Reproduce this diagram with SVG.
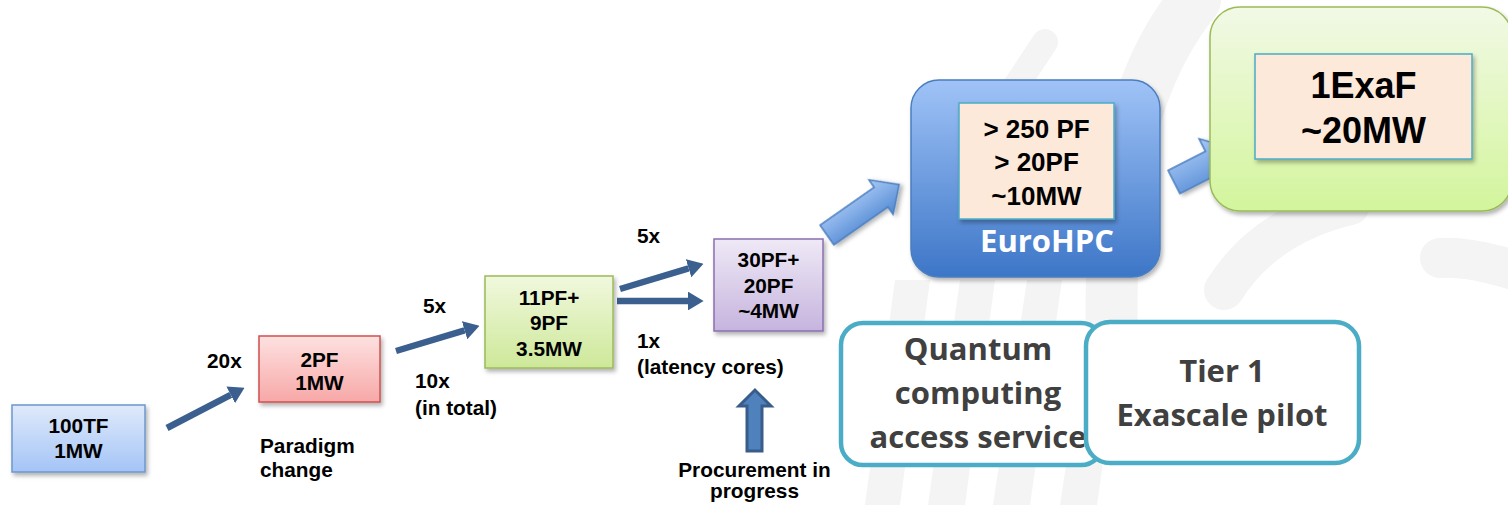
<svg xmlns="http://www.w3.org/2000/svg" width="1508" height="505" viewBox="0 0 1508 505">
<style>
.lbl{font-family:"Liberation Sans",Arial,sans-serif;font-weight:bold;font-size:20.8px;fill:#000}
.box{font-family:"Liberation Sans",Arial,sans-serif;font-weight:bold;font-size:20.8px;fill:#000;text-anchor:middle}
.big{font-family:"Liberation Sans",Arial,sans-serif;font-weight:bold;fill:#000;text-anchor:middle}
.cal{font-family:"Open Sans","Noto Sans",sans-serif;font-weight:bold;font-size:31px;fill:#404040;text-anchor:middle}
.bg{fill:none;stroke:#f4f4f4;stroke-linecap:round}
.conn{stroke:#3b5f8e;stroke-width:6.5;fill:none;marker-end:url(#ah)}
.inner{fill:#fde9d9;stroke:#4bacc6;stroke-width:1.5}
.svc{fill:#fff;stroke:#4bacc6;stroke-width:4.5}
.blk{fill:url(#gArrow);stroke:#4a7ebf;stroke-width:1.5}
</style>
<defs>
<marker id="ah" viewBox="0 0 10 12" refX="0" refY="6" markerWidth="2.4" markerHeight="2.9" orient="auto" markerUnits="strokeWidth">
<path d="M0,0 L10,6 L0,12 Z" fill="#3b5f8e"/>
</marker>
<filter id="sh" x="-10%" y="-10%" width="125%" height="130%">
<feDropShadow dx="2" dy="3" stdDeviation="2" flood-color="#000" flood-opacity="0.3"/>
</filter>
<linearGradient id="gBlue" x1="0" y1="0" x2="0" y2="1"><stop offset="0" stop-color="#dfeafb"/><stop offset="1" stop-color="#a4c4f6"/></linearGradient>
<linearGradient id="gRed" x1="0" y1="0" x2="0" y2="1"><stop offset="0" stop-color="#fde1e0"/><stop offset="1" stop-color="#f7a8a7"/></linearGradient>
<linearGradient id="gGreen" x1="0" y1="0" x2="0" y2="1"><stop offset="0" stop-color="#f1f8de"/><stop offset="1" stop-color="#cde899"/></linearGradient>
<linearGradient id="gPurple" x1="0" y1="0" x2="0" y2="1"><stop offset="0" stop-color="#efe9f6"/><stop offset="1" stop-color="#c6b4de"/></linearGradient>
<linearGradient id="gEuro" x1="0" y1="0" x2="0" y2="1"><stop offset="0" stop-color="#9fc3f7"/><stop offset="1" stop-color="#3d76c7"/></linearGradient>
<linearGradient id="gExa" x1="0" y1="0" x2="0" y2="1"><stop offset="0" stop-color="#f2f9e6"/><stop offset="1" stop-color="#d3f59c"/></linearGradient>
<linearGradient id="gArrow" x1="0" y1="0" x2="0" y2="1"><stop offset="0" stop-color="#a9c9f6"/><stop offset="1" stop-color="#5088d2"/></linearGradient>
</defs>
<rect width="1508" height="505" fill="#fff"/>
<g id="background">
<path class="bg" d="M1045 42 L1000 110" stroke-width="26"/>
<path class="bg" d="M1195 0 Q1105 110 1112 340" stroke-width="52"/>
<path class="bg" d="M1224 290 Q1265 225 1350 205" stroke-width="40"/>
<path class="bg" d="M1440 258 Q1470 256 1520 272" stroke-width="40"/>
<polygon points="895,280 930,280 900,505 865,505" fill="#f4f4f4"/>
<polygon points="960,280 995,280 965,505 928,505" fill="#f4f4f4"/>
<polygon points="1027,280 1062,280 1030,505 993,505" fill="#f4f4f4"/>
<polygon points="1094,280 1129,280 1097,505 1060,505" fill="#f4f4f4"/>
</g>
<g id="connectors">
<line class="conn" x1="167" y1="428" x2="230.7" y2="394.9"/>
<line class="conn" x1="396" y1="351" x2="464.6" y2="330.3"/>
<line class="conn" x1="620" y1="289" x2="688.6" y2="268.3"/>
<line class="conn" x1="617" y1="301" x2="688" y2="301"/>
<polygon points="747,451 747,406 739,406 755,390 771,406 762,406 762,451" fill="#4f81bd" stroke="#385d8a" stroke-width="3" stroke-linejoin="miter"/>
<path class="blk" transform="translate(827,235) rotate(-35)" d="M0,-12 L66,-12 L66,-21 L88,0 L66,21 L66,12 L0,12 Z" filter="url(#sh)"/>
<path class="blk" transform="translate(1174,182) rotate(-27)" d="M0,-13 L42,-13 L42,-27 L71,0 L42,27 L42,13 L0,13 Z" filter="url(#sh)"/>
</g>
<g id="n100TF">
<rect x="12" y="405" width="133" height="67" fill="url(#gBlue)" stroke="#6d97cc" stroke-width="1.5" filter="url(#sh)"/>
<text class="box" x="78.5" y="433">100TF</text>
<text class="box" x="78.5" y="458">1MW</text>
</g>
<g id="n2PF">
<rect x="259" y="336" width="121" height="66" fill="url(#gRed)" stroke="#d0504f" stroke-width="1.5" filter="url(#sh)"/>
<text class="box" x="319.5" y="367">2PF</text>
<text class="box" x="319.5" y="390">1MW</text>
</g>
<g id="n11PF">
<rect x="485" y="276" width="128" height="92" fill="url(#gGreen)" stroke="#9bbb59" stroke-width="1.5" filter="url(#sh)"/>
<text class="box" x="549" y="305">11PF+</text>
<text class="box" x="549" y="330">9PF</text>
<text class="box" x="549" y="356">3.5MW</text>
</g>
<g id="n30PF">
<rect x="714" y="239" width="109" height="92" fill="url(#gPurple)" stroke="#8a6fb0" stroke-width="1.5" filter="url(#sh)"/>
<text class="box" x="768.5" y="267">30PF+</text>
<text class="box" x="768.5" y="293">20PF</text>
<text class="box" x="768.5" y="318">~4MW</text>
</g>
<g id="labels">
<text class="lbl" x="207" y="368">20x</text>
<text class="lbl" x="260" y="453">Paradigm</text>
<text class="lbl" x="260" y="477">change</text>
<text class="lbl" x="423" y="313">5x</text>
<text class="lbl" x="415" y="388">10x</text>
<text class="lbl" x="415" y="415">(in total)</text>
<text class="lbl" x="637" y="243">5x</text>
<text class="lbl" x="637" y="348">1x</text>
<text class="lbl" x="637" y="374">(latency cores)</text>
<text class="box" x="754.5" y="477">Procurement in</text>
<text class="box" x="754.5" y="498">progress</text>
</g>
<g id="nEuroHPC">
<rect x="911" y="80" width="249" height="197" rx="28" fill="url(#gEuro)" stroke="#4a7ebf" stroke-width="1.5" filter="url(#sh)"/>
<rect class="inner" x="959" y="103" width="155" height="116" filter="url(#sh)"/>
<text class="big" x="1036.5" y="138" font-size="26">&gt; 250 PF</text>
<text class="big" x="1036.5" y="171" font-size="26">&gt; 20PF</text>
<text class="big" x="1036.5" y="205" font-size="26">~10MW</text>
<text x="1047" y="252" font-family="'Open Sans','Noto Sans',sans-serif" font-weight="bold" font-size="31" fill="#fff" text-anchor="middle">EuroHPC</text>
</g>
<g id="nExa">
<rect x="1210" y="7" width="302" height="204" rx="30" fill="url(#gExa)" stroke="#9bbb59" stroke-width="1.5" filter="url(#sh)"/>
<rect class="inner" x="1255" y="54" width="217" height="105" filter="url(#sh)"/>
<text class="big" x="1363.5" y="98" font-size="36">1ExaF</text>
<text class="big" x="1363.5" y="143" font-size="36">~20MW</text>
</g>
<g id="nQuantum">
<rect class="svc" x="841" y="323" width="262" height="142" rx="22"/>
<text class="cal" x="978" y="360">Quantum</text>
<text class="cal" x="978" y="404">computing</text>
<text class="cal" x="978" y="448">access service</text>
</g>
<g id="nTier1">
<rect class="svc" x="1086" y="322" width="273" height="141" rx="24"/>
<text class="cal" x="1222" y="382">Tier 1</text>
<text class="cal" x="1222" y="426">Exascale pilot</text>
</g>
</svg>
